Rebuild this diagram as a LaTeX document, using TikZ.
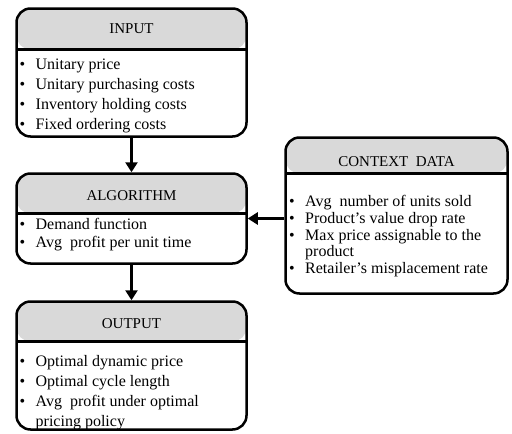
\documentclass[tikz,border=0pt]{standalone}
\usepackage{fontspec}
\setmainfont{Liberation Serif}
\usetikzlibrary{arrows.meta}

\newcommand{\bul}{\makebox[16pt][l]{\textbullet}}
\newcommand{\cont}{\hspace*{16pt}}

\tikzset{
	box/.style={draw, line width=2.5pt, rounded corners=14pt, inner sep=0pt,
		path picture={
			\fill[gray!30] (path picture bounding box.north west) rectangle ([yshift=-#1]path picture bounding box.north east);
			\draw[line width=2.5pt] ([yshift=-#1]path picture bounding box.north west) -- ([yshift=-#1]path picture bounding box.north east);
		}},
	head/.style={font=\fontsize{15}{18}\selectfont, inner sep=0pt},
	items/.style={font=\fontsize{16}{#1}\selectfont, align=left, anchor=north west, inner sep=0pt},
	arr/.style={line width=2.5pt, -{Triangle[length=10pt,width=12pt]}}
}

\begin{document}
\begin{tikzpicture}[x=1pt, y=1pt]
		\useasboundingbox (0,0) rectangle (512,-434);

		% the four boxes
		\node[box=41pt, minimum width=230pt, minimum height=128pt] (input) at (131.5,-72.5) {};
		\node[box=40pt, minimum width=230pt, minimum height=90pt] (algo) at (131.5,-218.5) {};
		\node[box=36pt, minimum width=222pt, minimum height=156pt] (context) at (396.5,-215.5) {};
		\node[box=40pt, minimum width=230pt, minimum height=128pt] (output) at (131.5,-365.5) {};

		% headers
		\node[head] (inputhead) at ([yshift=-21pt]input.north) {INPUT};
		\node[head] (algohead) at ([yshift=-23pt]algo.north) {ALGORITHM};
		\node[head] (contexthead) at ([yshift=-25pt]context.north) {CONTEXT\ \ DATA};
		\node[head] (outputhead) at ([yshift=-23pt]output.north) {OUTPUT};

		% bullet lists
		\node[items=20pt] (inputlist) at (19.5,-55) {\strut\bul Unitary price\\ \bul Unitary purchasing costs\\ \bul Inventory holding costs\\ \bul Fixed ordering costs};
		\node[items=18pt] (algolist) at (19.5,-217) {\strut\bul Demand function\\ \bul Avg\ \ profit per unit time};
		\node[items=16.7pt] (contextlist) at (289,-195) {\strut\bul Avg\ \ number of units sold\\ \bul Product's value drop rate\\ \bul Max price assignable to the\\ \cont product\\ \bul Retailer's misplacement rate};
		\node[items=20pt] (outputlist) at (19.5,-352) {\strut\bul Optimal dynamic price\\ \bul Optimal cycle length\\ \bul Avg\ \ profit under optimal\\ \cont pricing policy};

		% connectors
		\path[draw,arr] (input) -- (algo);
		\path[draw,arr] (algo) -- (output);
		\path[draw,arr] (context.west |- algo.east) -- (algo.east);
\end{tikzpicture}
\end{document}
